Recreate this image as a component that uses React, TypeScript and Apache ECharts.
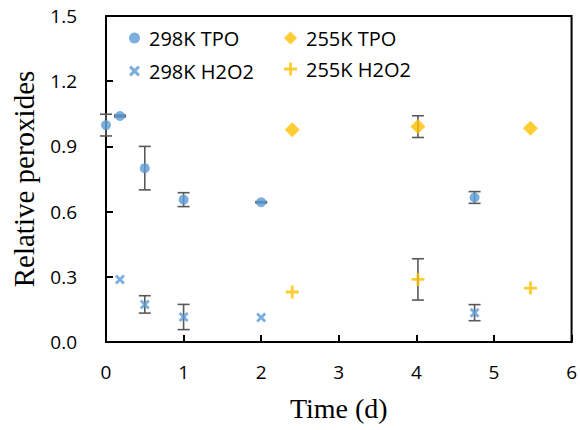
import React, { useEffect, useRef } from "react";
import * as echarts from "echarts";

// ---- data ----
const tpo298X = [0, 0.18, 0.5, 1.0, 2.0, 4.75];
const tpo298Y = [0.998, 1.04, 0.8, 0.655, 0.643, 0.665];
const tpo298Err = [0.05, 0.004, 0.1, 0.032, 0.003, 0.027];

const h2o2298X = [0.18, 0.5, 1.0, 2.0, 4.75];
const h2o2298Y = [0.288, 0.173, 0.115, 0.113, 0.135];
const h2o2298Err = [0, 0.04, 0.058, 0, 0.037];

const tpo255X = [2.4, 4.02, 5.47];
const tpo255Y = [0.977, 0.991, 0.984];
const tpo255Err = [0, 0.05, 0];

const h2o2255X = [2.4, 4.02, 5.47];
const h2o2255Y = [0.23, 0.288, 0.248];
const h2o2255Err = [0, 0.095, 0];

const xTicks = [0, 1, 2, 3, 4, 5, 6];
const yTicks = [0, 0.3, 0.6, 0.9, 1.2, 1.5];

const names = ["298K TPO", "298K H2O2", "255K TPO", "255K H2O2"];

const BLUE = "#5B9BD5";
const GOLD = "#FFC000";
const X_PATH =
  "path://M2,0 L5,3 L8,0 L10,2 L7,5 L10,8 L8,10 L5,7 L2,10 L0,8 L3,5 L0,2 Z";
const PLUS_PATH =
  "path://M3.9,0 H6.1 V3.9 H10 V6.1 H6.1 V10 H3.9 V6.1 H0 V3.9 H3.9 Z";

function pts(xs: number[], ys: number[]) {
  return xs.map((x, i) => [x, ys[i]]);
}
function errs(xs: number[], ys: number[], es: number[]) {
  return xs
    .map((x, i) => [x, ys[i] - es[i], ys[i] + es[i], es[i]])
    .filter((d) => d[3] > 0);
}

export default function App() {
  const ref = useRef<HTMLDivElement>(null);
  useEffect(() => {
    document.body.style.margin = "0";
    if (!ref.current) return;
    const chart = echarts.init(ref.current, undefined, { renderer: "svg" });

    const errData = [
      ...errs(tpo298X, tpo298Y, tpo298Err),
      ...errs(h2o2298X, h2o2298Y, h2o2298Err),
      ...errs(tpo255X, tpo255Y, tpo255Err),
      ...errs(h2o2255X, h2o2255Y, h2o2255Err),
    ];

    const tickFont = { fontFamily: "Open Sans", fontSize: 19, color: "#000" };
    const legendText = {
      fontFamily: "Open Sans",
      fontSize: 20,
      color: "#000",
      padding: [0, 0, 0, 4],
    };

    chart.setOption({
      animation: false,
      backgroundColor: "#fff",
      grid: {
        left: 106,
        right: 6,
        top: 16,
        bottom: 88,
        show: true,
        borderColor: "#000",
        borderWidth: 2,
      },
      legend: [
        {
          data: [
            { name: names[0], icon: "circle" },
            { name: names[1], icon: X_PATH },
          ],
          orient: "vertical",
          left: 129,
          top: 28,
          padding: 0,
          itemWidth: 11,
          itemHeight: 11,
          itemGap: 13,
          textStyle: legendText,
          selectedMode: false,
        },
        {
          data: [
            { name: names[2], icon: "diamond" },
            { name: names[3], icon: PLUS_PATH },
          ],
          orient: "vertical",
          left: 284,
          top: 28,
          padding: 0,
          itemWidth: 13,
          itemHeight: 13,
          itemGap: 11,
          textStyle: legendText,
          selectedMode: false,
        },
      ],
      xAxis: {
        type: "value",
        min: xTicks[0],
        max: xTicks[xTicks.length - 1],
        interval: 1,
        name: "Time (d)",
        nameLocation: "middle",
        nameGap: 52,
        nameTextStyle: {
          fontFamily: "Liberation Serif",
          fontSize: 28,
          color: "#000",
        },
        axisLine: { show: true, onZero: false, lineStyle: { color: "#000", width: 2 } },
        axisTick: { show: true, inside: true, length: 7, lineStyle: { color: "#000", width: 2 } },
        axisLabel: { ...tickFont, margin: 20 },
        splitLine: { show: false },
      },
      yAxis: {
        type: "value",
        min: yTicks[0],
        max: yTicks[yTicks.length - 1],
        interval: 0.3,
        name: "Relative peroxides",
        nameLocation: "middle",
        nameGap: 68,
        nameTextStyle: {
          fontFamily: "Liberation Serif",
          fontSize: 29,
          color: "#000",
        },
        axisLine: { show: true, onZero: false, lineStyle: { color: "#000", width: 2 } },
        axisTick: { show: true, inside: true, length: 7, lineStyle: { color: "#000", width: 2 } },
        axisLabel: {
          ...tickFont,
          margin: 29,
          formatter: (v: number) => v.toFixed(1),
        },
        splitLine: { show: false },
      },
      series: [
        {
          type: "custom",
          name: "err",
          z: 1,
          silent: true,
          data: errData,
          encode: { x: 0, y: [1, 2] },
          renderItem: (_p: any, api: any) => {
            const x = api.value(0);
            const lo = api.coord([x, api.value(1)]);
            const hi = api.coord([x, api.value(2)]);
            const half = 6;
            const style = { stroke: "#595959", lineWidth: 1.6 };
            return {
              type: "group",
              children: [
                { type: "line", shape: { x1: lo[0], y1: lo[1], x2: hi[0], y2: hi[1] }, style },
                { type: "line", shape: { x1: lo[0] - half, y1: lo[1], x2: lo[0] + half, y2: lo[1] }, style },
                { type: "line", shape: { x1: hi[0] - half, y1: hi[1], x2: hi[0] + half, y2: hi[1] }, style },
              ],
            };
          },
        },
        {
          type: "scatter",
          name: names[0],
          z: 3,
          symbol: "circle",
          symbolSize: 10,
          itemStyle: { color: BLUE },
          data: pts(tpo298X, tpo298Y),
        },
        {
          type: "scatter",
          name: names[1],
          z: 3,
          symbol: X_PATH,
          symbolSize: 10,
          itemStyle: { color: BLUE },
          data: pts(h2o2298X, h2o2298Y),
        },
        {
          type: "scatter",
          name: names[2],
          z: 3,
          symbol: "diamond",
          symbolSize: 15,
          itemStyle: { color: GOLD },
          data: pts(tpo255X, tpo255Y),
        },
        {
          type: "scatter",
          name: names[3],
          z: 3,
          symbol: PLUS_PATH,
          symbolSize: 13,
          itemStyle: { color: GOLD },
          data: pts(h2o2255X, h2o2255Y),
        },
      ],
    });
    return () => chart.dispose();
  }, []);
  return <div ref={ref} style={{ width: 580, height: 430 }} />;
}
